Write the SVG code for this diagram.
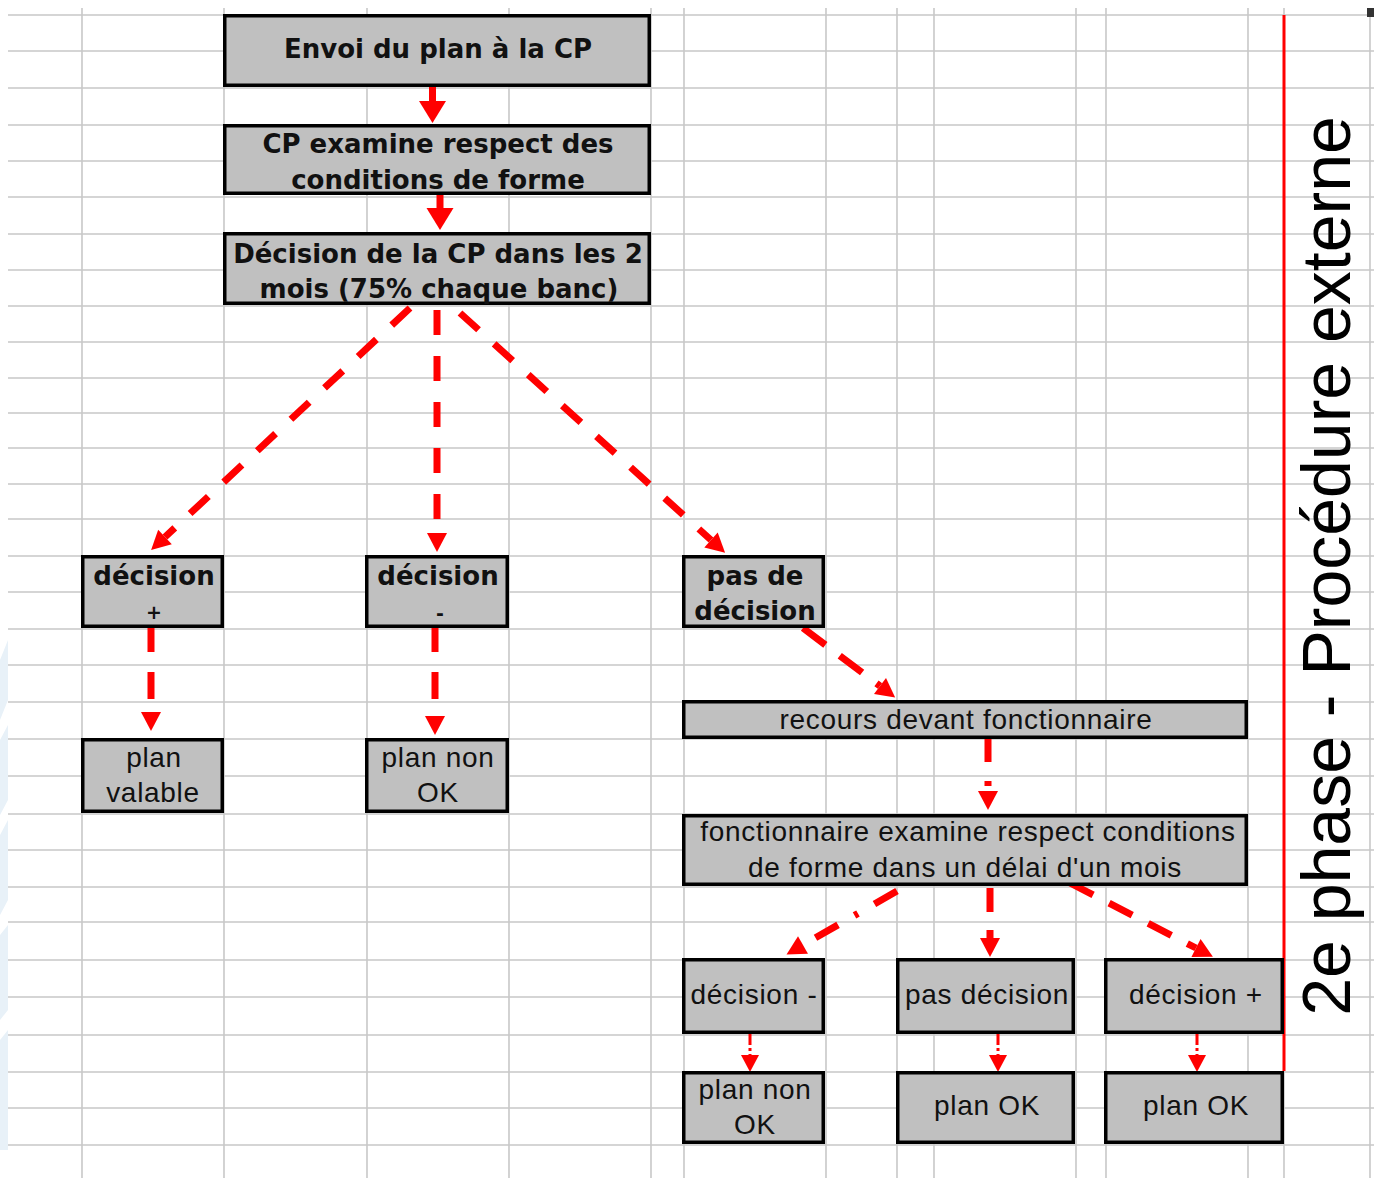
<svg xmlns="http://www.w3.org/2000/svg" width="1374" height="1178" viewBox="0 0 1374 1178">
<style>
.grid{stroke:#c8c8c8;stroke-width:1.6;fill:none}
.box{fill:#c0c0c0;stroke:#000;stroke-width:3.5}
.b{font-family:"DejaVu Sans",Verdana,sans-serif;font-weight:bold;font-size:26px;fill:#111;text-anchor:middle}
.bs{font-family:"DejaVu Sans",Verdana,sans-serif;font-weight:bold;font-size:19px;fill:#111;text-anchor:middle}
.r{font-family:"Liberation Sans",Arial,sans-serif;font-size:28px;letter-spacing:0.7px;fill:#111;text-anchor:middle}
.solid{stroke:#ff0000;stroke-width:7;fill:none}
.dash{stroke:#ff0000;stroke-width:7;fill:none;stroke-dasharray:25 21}
.thin{stroke:#ff0000;stroke-width:3;fill:none;stroke-dasharray:11 3 3 3}
</style>
<defs>
<marker id="ahBig" markerUnits="userSpaceOnUse" markerWidth="24" markerHeight="28" refX="0" refY="13.5" orient="auto" overflow="visible"><path d="M0,0 L22,13.5 L0,27 z" fill="#ff0000"/></marker>
<marker id="ahMed" markerUnits="userSpaceOnUse" markerWidth="20" markerHeight="20" refX="0" refY="10" orient="auto" overflow="visible"><path d="M0,0 L19,10 L0,20 z" fill="#ff0000"/></marker>
<marker id="ahSmall" markerUnits="userSpaceOnUse" markerWidth="18" markerHeight="18" refX="0" refY="9" orient="auto" overflow="visible"><path d="M0,0 L17,9 L0,18 z" fill="#ff0000"/></marker>
</defs>
<rect width="1374" height="1178" fill="#ffffff"/>
<g id="watermark" fill="#e8f1f8">
<path d="M0,660 L8,640 L8,700 L0,720 z"/>
<path d="M0,740 L8,725 L8,800 L0,815 z"/>
<path d="M0,835 L8,820 L8,900 L0,915 z"/>
<path d="M0,935 L8,925 L8,1010 L0,1020 z"/>
<path d="M0,1040 L8,1030 L8,1150 L0,1150 z"/>
</g>
<g id="grid" class="grid">
<path d="M8,15H1374M8,51H1374M8,88H1374M8,125H1374M8,161H1374M8,197H1374M8,234H1374M8,270H1374M8,306H1374M8,342H1374M8,378H1374M8,413H1374M8,448H1374M8,484H1374M8,519H1374M8,556H1374M8,592H1374M8,629H1374M8,665H1374M8,702H1374M8,739H1374M8,776H1374M8,814H1374M8,850H1374M8,887H1374M8,922H1374M8,960H1374M8,997H1374M8,1035H1374M8,1072H1374M8,1108H1374M8,1145H1374"/>
<path d="M82,8V1178M224,8V1178M367,8V1178M509,8V1178M651,8V1178M684,8V1178M826,8V1178M897,8V1178M934,8V1178M1076,8V1178M1106,8V1178M1248,8V1178M1284,8V1178M1370,8V1178"/>
</g>
<rect x="1367" y="8" width="7" height="9" fill="#333333"/>
<line id="phase-line" x1="1284" y1="15" x2="1284" y2="1071" stroke="#ff0000" stroke-width="3"/>
<text id="phase-label" transform="translate(1350,566) rotate(-90)" font-family="'Liberation Sans',Arial,sans-serif" font-size="68" fill="#000" text-anchor="middle">2e phase - Procédure externe</text>
<g id="connectors">
<line class="solid" x1="432.5" y1="87" x2="432.5" y2="101" marker-end="url(#ahBig)"/>
<line class="solid" x1="440" y1="195" x2="440" y2="208" marker-end="url(#ahBig)"/>
<line class="dash" x1="410" y1="308" x2="165" y2="537" marker-end="url(#ahMed)"/>
<line class="dash" x1="437" y1="310" x2="437" y2="533" marker-end="url(#ahMed)"/>
<line class="dash" x1="460" y1="313" x2="711" y2="540" marker-end="url(#ahMed)"/>
<line class="dash" x1="151" y1="625" x2="151" y2="712" style="stroke-dasharray:27 20" marker-end="url(#ahMed)"/>
<line class="dash" x1="435" y1="625" x2="435" y2="716" style="stroke-dasharray:27 20" marker-end="url(#ahMed)"/>
<line class="dash" x1="803" y1="628" x2="880" y2="686" style="stroke-dasharray:28 18" marker-end="url(#ahMed)"/>
<line class="dash" x1="988" y1="739" x2="988" y2="791" style="stroke-dasharray:23 19 5 100" marker-end="url(#ahMed)"/>
<line class="dash" x1="897" y1="891" x2="803" y2="945" style="stroke-dasharray:26 19 4 19" marker-end="url(#ahMed)"/>
<line class="dash" x1="990" y1="888" x2="990" y2="938" style="stroke-dasharray:24 18" marker-end="url(#ahMed)"/>
<line class="dash" x1="1070" y1="883" x2="1196" y2="948" style="stroke-dasharray:26 18" marker-end="url(#ahMed)"/>
<line class="thin" x1="750" y1="1034" x2="750" y2="1055" marker-end="url(#ahSmall)"/>
<line class="thin" x1="998" y1="1034" x2="998" y2="1055" marker-end="url(#ahSmall)"/>
<line class="thin" x1="1197" y1="1034" x2="1197" y2="1055" marker-end="url(#ahSmall)"/>
</g>
<g id="n-envoi"><rect class="box" x="224.75" y="15.75" width="424.5" height="69.5"/><text class="b" x="438" y="58">Envoi du plan à la CP</text></g>
<g id="n-cp-examine"><rect class="box" x="224.75" y="125.75" width="424.5" height="67.5"/><text class="b" x="438" y="153">CP examine respect des</text><text class="b" x="438" y="189">conditions de forme</text></g>
<g id="n-decision-cp"><rect class="box" x="224.75" y="233.75" width="424.5" height="69.5"/><text class="b" x="438" y="263">Décision de la CP dans les 2</text><text class="b" x="439" y="298">mois (75% chaque banc)</text></g>
<g id="n-decision-plus"><rect class="box" x="82.75" y="556.75" width="139.5" height="69.5"/><text class="b" x="154" y="585">décision</text><text class="bs" x="154" y="619">+</text></g>
<g id="n-decision-moins"><rect class="box" x="366.75" y="556.75" width="140.5" height="69.5"/><text class="b" x="438" y="585">décision</text><text class="bs" x="440" y="620">-</text></g>
<g id="n-pas-de-decision"><rect class="box" x="683.75" y="556.75" width="139.5" height="69.5"/><text class="b" x="755" y="585">pas de</text><text class="b" x="755" y="620">décision</text></g>
<g id="n-plan-valable"><rect class="box" x="82.75" y="739.75" width="139.5" height="71.5"/><text class="r" x="154" y="767">plan</text><text class="r" x="153" y="802">valable</text></g>
<g id="n-plan-non-ok"><rect class="box" x="366.75" y="739.75" width="140.5" height="71.5"/><text class="r" x="438" y="767">plan non</text><text class="r" x="438" y="802">OK</text></g>
<g id="n-recours"><rect class="box" x="683.75" y="701.75" width="562.5" height="35.5"/><text class="r" x="966" y="729">recours devant fonctionnaire</text></g>
<g id="n-fonctionnaire"><rect class="box" x="683.75" y="815.75" width="562.5" height="68.5"/><text class="r" x="968" y="841">fonctionnaire examine respect conditions</text><text class="r" x="965" y="877">de forme dans un délai d'un mois</text></g>
<g id="n-decision-moins-2"><rect class="box" x="683.75" y="959.75" width="139.5" height="72.5"/><text class="r" x="754" y="1004">décision -</text></g>
<g id="n-pas-decision"><rect class="box" x="897.75" y="959.75" width="175.5" height="72.5"/><text class="r" x="987" y="1004">pas décision</text></g>
<g id="n-decision-plus-2"><rect class="box" x="1105.75" y="959.75" width="176.5" height="72.5"/><text class="r" x="1196" y="1004">décision +</text></g>
<g id="n-plan-non-ok-2"><rect class="box" x="683.75" y="1072.75" width="139.5" height="69.5"/><text class="r" x="755" y="1099">plan non</text><text class="r" x="755" y="1134">OK</text></g>
<g id="n-plan-ok-1"><rect class="box" x="897.75" y="1072.75" width="175.5" height="69.5"/><text class="r" x="987" y="1115">plan OK</text></g>
<g id="n-plan-ok-2"><rect class="box" x="1105.75" y="1072.75" width="176.5" height="69.5"/><text class="r" x="1196" y="1115">plan OK</text></g>
</svg>
